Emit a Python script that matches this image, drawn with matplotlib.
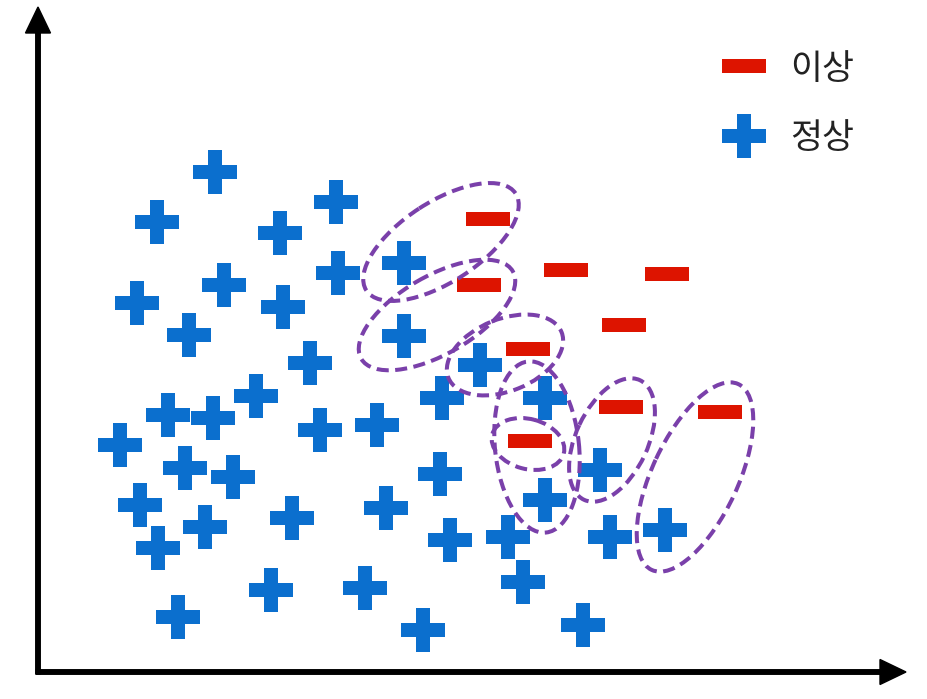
import matplotlib
matplotlib.use('Agg')
import matplotlib.pyplot as plt
from matplotlib.patches import Ellipse
from matplotlib.lines import Line2D
import numpy as np

plt.rcParams['font.family'] = ['Noto Sans CJK KR', 'DejaVu Sans']

# normal points (plus) - pixel-like coordinates
normal_x = [215, 157, 336, 280, 224, 338, 137, 283, 189, 404, 404, 310, 256, 480,
            442, 545, 168, 213, 320, 377, 120, 185, 233, 440, 600, 140, 386, 545,
            205, 292, 158, 450, 508, 610, 665, 523, 271, 365, 178, 583, 423]
normal_y = [172, 222, 202, 233, 285, 273, 303, 307, 335, 263, 336, 363, 396, 365,
            398, 398, 415, 418, 430, 425, 445, 468, 477, 474, 470, 505, 508, 500,
            527, 518, 548, 540, 537, 537, 530, 582, 590, 588, 617, 625, 630]

# anomalies (minus)
anom_x = [488, 566, 667, 479, 624, 528, 621, 720, 530]
anom_y = [219, 270, 274, 285, 325, 349, 407, 412, 441]

# dashed groupings: center x, center y, width, height, angle
ell_cx = [441, 437, 505, 537, 528, 612, 695]
ell_cy = [242, 315, 355, 447, 444, 440, 477]
ell_w = [178, 175, 122, 172, 74, 132, 205]
ell_h = [80, 78, 72, 84, 50, 72, 86]
ell_ang = [-33, -30, -22, 84, 15, -65, -65]

labels = ['이상', '정상']

blue = '#0B6FCE'
red = '#DD1400'
purple = '#7A40AA'

fig = plt.figure(figsize=(9.28, 6.99), dpi=100)
ax = fig.add_axes([0, 0, 1, 1])
ax.set_xlim(0, 928)
ax.set_ylim(699, 0)
ax.axis('off')

ms = 31.7
minus_marker = [(-1, -0.31), (1, -0.31), (1, 0.31), (-1, 0.31), (-1, -0.31)]

ax.plot(normal_x, normal_y, linestyle='none', marker='P', ms=ms,
        color=blue, markeredgewidth=0, zorder=2)
ax.plot(anom_x, anom_y, linestyle='none', marker=minus_marker, ms=ms,
        color=red, markeredgewidth=0, zorder=2)

for cx, cy, w, h, a in zip(ell_cx, ell_cy, ell_w, ell_h, ell_ang):
    ax.add_patch(Ellipse((cx, cy), w, h, angle=a, fill=False, edgecolor=purple,
                         lw=2.9, linestyle=(0, (3.0, 1.6)), zorder=3))

# axes arrows
ax.arrow(38, 674, 0, -667, width=4.5, head_width=25, head_length=26,
         length_includes_head=True, color='black', zorder=4)
ax.arrow(36, 672, 870, 0, width=4.5, head_width=25, head_length=26,
         length_includes_head=True, color='black', zorder=4)

handles = [Line2D([], [], linestyle='none', marker=minus_marker, ms=ms,
                  color=red, markeredgewidth=0),
           Line2D([], [], linestyle='none', marker='P', ms=ms,
                  color=blue, markeredgewidth=0)]
ax.legend(handles, labels, loc='center left', bbox_to_anchor=(721 / 928, 1 - 104 / 699),
          frameon=False, fontsize=25, handlelength=1.35, handletextpad=0.65,
          labelspacing=1.0, borderpad=0, borderaxespad=0, labelcolor='#222222')

fig.savefig('out.png', dpi=100)
